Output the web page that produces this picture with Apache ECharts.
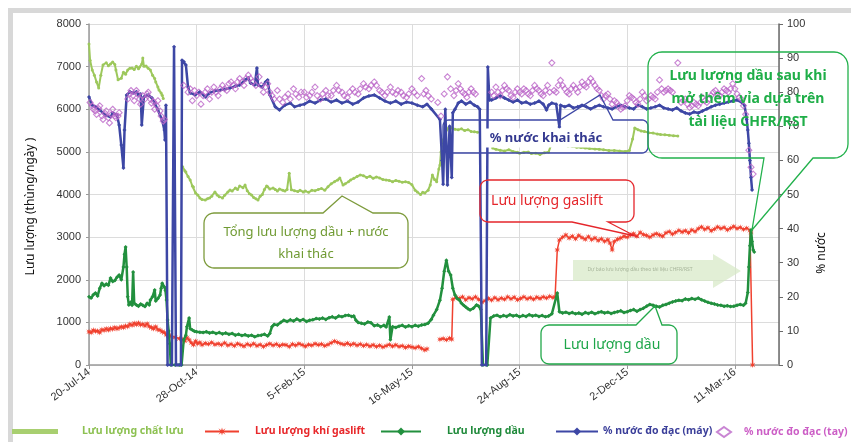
<!DOCTYPE html>
<html>
<head>
<meta charset="utf-8">
<script src="https://cdn.jsdelivr.net/npm/echarts@6/dist/echarts.min.js"></script>
<style>
  html, body { margin: 0; padding: 0; background: #fff; }
  #chart { width: 851px; height: 442px; }
</style>
</head>
<body>
<div id="chart"></div>
<script>
// x values are days counted from the first production day (20-Jul-2014)
const startDate = Date.UTC(2014, 6, 20);
const monthNames = ['Jan','Feb','Mar','Apr','May','Jun','Jul','Aug','Sep','Oct','Nov','Dec'];
const dayTickStep = 100;
const dayAxisEnd = 641;
const rateTicks = [0, 8000, 1000];     // min, max, step (thùng/ngày)
const waterTicks = [0, 100, 10];       // min, max, step (%)

const seriesNames = ['Lưu lượng chất lưu', 'Lưu lượng khí gaslift', 'Lưu lượng dầu', '% nước đo đạc (máy)', '% nước đo đạc (tay)'];

// Total liquid rate
const liquidRate = [
  [0,7530],[1,7150],[3,6920],[5,6800],[7,6640],[9,6500],[11,6800],[13,7040],[16,7090],[18,7020],[20,7060],[22,7110],[24,7050],[25,6920],[27,6690],[30,6730],[32,6870],[34,6820],[36,6920],[38,6960],[40,6970],[42,6930],[44,7010],[46,6950],[47,6990],[49,7060],[50,7200],[51,7010],[53,7015],[55,6960],[57,6920],[59,6800],[61,6720],[62,6640],[64,6520],[65,6450],[67,6380],[68,6330],[69,6250],
  [78,'-'],
  [87,4650],[89,4560],[90,4530],[92,4420],[94,4340],[96,4200],[97,4175],[99,4035],[101,3990],[103,3920],[105,3880],[108,3870],[110,3900],[112,3920],[114,3960],[117,4060],[119,3990],[121,3950],[124,3920],[126,3980],[129,4060],[131,4105],[133,4080],[136,4150],[138,4120],[140,4200],[143,4160],[145,4220],[147,4090],[149,4020],[151,3990],[153,3930],[155,3900],[157,3870],[159,3960],[161,4000],[163,4120],[165,4200],[166,4180],[168,4130],[171,4150],[173,4120],[175,4080],[177,4130],[180,4100],[182,4080],[184,4120],[186,4500],[188,4110],[191,4090],[194,4070],[196,4100],[199,4060],[201,4080],[204,4050],[207,4100],[210,4090],[213,4120],[216,4140],[219,4100],[222,4180],[225,4250],[228,4300],[231,4340],[233,4390],[236,4220],[238,4250],[241,4300],[243,4340],[246,4380],[249,4420],[252,4460],[255,4440],[258,4400],[261,4430],[264,4380],[267,4410],[270,4390],[273,4350],[276,4340],[279,4330],[282,4300],[285,4330],[288,4310],[291,4290],[294,4300],[297,4280],[300,4230],[303,4100],[305,4060],[308,4000],[310,4050],[312,4035],[315,4100],[317,4220],[319,4460],[321,4350],[323,4300],[325,4600],[326,4690],[327,5000],[329,5280],[331,5420],[332,5510],[334,5560],[337,5560],[340,5530],[343,5520],[346,5540],[349,5500],[352,5520],[355,5480],[358,5470],[361,5460],
  [368,'-'],
  [375,5090],[378,5060],[382,5040],[386,5020],[390,5050],[394,5010],[398,4990],[400,4970],[404,4990],[408,5000],[411,4960],[415,4970],[419,4940],[423,4980],[427,5000],[430,5210],[433,5190],[437,5170],[441,5150],[445,5140],[449,5130],[453,5110],[457,5100],[461,5090],[465,5080],[470,5070],[474,5060],[478,5050],[483,5030],[488,5030],[493,5020],[498,5010],[502,5030],[505,5300],[507,5560],[510,5520],[513,5490],[516,5480],[520,5450],[524,5440],[528,5420],[531,5410],[535,5400],[539,5390],[543,5380],[547,5370]
];

// Gas-lift injection rate
const gasliftRate = [
  [0,780],[2,760],[4,820],[6,790],[8,800],[10,760],[12,830],[14,810],[16,850],[18,820],[20,860],[22,840],[24,880],[26,850],[28,870],[30,900],[32,880],[34,920],[36,900],[38,960],[40,930],[42,980],[44,950],[46,990],[48,940],[50,960],[52,920],[54,970],[56,900],[58,880],[60,850],[62,900],[64,830],[66,820],[68,780],[70,760],[72,700],[74,690],[76,680],[80,650],[84,620],[87,600],[89,560],[91,640],[93,590],
  [95,520],[97,470],[99,560],[101,500],[103,530],[105,470],[108,510],[111,490],[114,530],[117,480],[120,500],[123,470],[126,520],[129,460],[132,490],[135,450],[138,500],[141,470],[144,440],[147,490],[150,460],[153,500],[156,450],[159,480],[162,430],[165,470],[168,500],[171,460],[174,490],[177,450],[180,480],[183,470],[186,430],[189,490],[192,460],[195,500],[198,470],[201,440],[204,480],[207,460],[210,500],[213,470],[216,490],[219,450],[222,480],[225,520],[228,560],[231,530],[234,500],[237,480],[240,510],[243,470],[246,500],[249,460],[252,490],[255,450],[258,480],[261,440],[264,470],[267,430],[270,460],[273,420],[276,450],[279,480],[282,440],[285,470],[288,430],[291,450],[294,410],[297,440],[300,420],[303,400],[306,430],[309,390],[312,350],[314,380],
  [320,'-'],
  [326,600],[329,620],[332,590],[335,630],[337,600],[338,1540],[341,1590],[344,1560],[347,1600],[350,1530],[353,1580],[356,1550],[359,1600],[362,1540],[365,1470],[368,1510],[371,1560],[374,1520],[377,1580],[380,1530],[383,1570],[386,1540],[389,1600],[392,1550],[395,1590],[398,1530],[401,1560],[404,1600],[407,1550],[410,1580],[413,1540],[416,1590],[419,1560],[422,1600],[425,1570],[428,1610],[431,1580],[433,1600],
  [435,2700],[437,2930],[440,3000],[443,3050],[446,2980],[449,3020],[452,2960],[455,3040],[458,2990],[461,2950],[464,3010],[467,2940],[470,2980],[473,2920],[476,2960],[479,2900],[482,2940],[484,2860],[486,2700],[488,2900],[491,2950],[494,2980],[497,3020],[500,3000],[503,3050],[506,3080],[509,3020],[512,3110],[515,3060],[518,3040],[521,3000],[524,3050],[527,3080],[530,3050],[533,3020],[536,3100],[539,3130],[542,3070],[545,3110],[548,3160],[551,3120],[554,3150],[557,3100],[560,3170],[563,3130],[566,3200],[569,3240],[572,3180],[575,3220],[578,3150],[581,3190],[584,3240],[587,3200],[590,3230],[593,3170],[596,3210],[599,3250],[602,3200],[605,3230],[608,3180],[611,3210],[614,3160],[615,3120],[616.5,0]
];

// Oil rate
const oilRate = [
  [0,1600],[2,1570],[4,1650],[6,1690],[8,1620],[10,1800],[12,1920],[14,1860],[16,1900],[18,1870],[20,2040],[22,1960],[24,1980],[26,2060],[28,2110],[30,2000],[32,2300],[33,2600],[34,2770],[35,2300],[36,1600],[37,1410],[38,1450],[39,1480],[40,1400],[41,2180],[42,1450],[44,1410],[46,1380],[48,1430],[50,1400],[52,1370],[54,1450],[56,1410],[57,1525],[59,1600],[61,1760],[62,1500],[64,1560],[66,1640],[67,1800],[68,1920],[70,1830],[71,1750],[72,1525],[73,1055],[74,800],[75,500],[76,0],[80,0],[84,0],[86,0],
  [88,590],[90,700],[91,900],[93,1100],[94,850],[96,820],[98,790],[100,780],[103,770],[106,760],[109,780],[112,750],[115,770],[118,740],[121,760],[124,730],[127,750],[130,720],[133,740],[136,700],[139,720],[142,690],[145,710],[148,680],[151,700],[154,660],[157,690],[160,700],[163,720],[166,680],[168,740],[170,900],[172,950],[175,940],[178,1000],[181,1050],[184,1020],[187,1060],[190,1030],[193,1080],[196,1040],[199,1070],[202,1020],[205,1050],[208,1060],[211,1090],[214,1080],[217,1100],[220,1070],[223,1110],[226,1130],[229,1100],[232,1150],[235,1130],[238,1160],[241,1170],[244,1140],[246,1150],[248,1050],[250,1000],[253,980],[256,960],[259,1010],[262,990],[265,920],[268,940],[271,900],[274,930],[276,890],[279,1125],[280,590],[282,900],[285,880],[288,910],[291,930],[294,890],[297,920],[300,900],[303,930],[306,910],[309,940],[312,950],[315,980],[318,1070],[320,1170],[323,1300],[326,1520],[328,1800],[330,2200],[332,2460],[334,2200],[336,2110],[338,1800],[340,1640],[342,1560],[344,1525],[346,1450],[348,1400],[350,1360],[352,1320],[354,1290],[357,1330],[360,1410],[362,1380],[364,1300],[366,0],[370,0],
  [373,1100],[376,1150],[379,1170],[382,1130],[385,1160],[388,1140],[391,1180],[394,1150],[397,1170],[400,1130],[403,1160],[406,1140],[409,1180],[412,1150],[415,1170],[418,1140],[421,1160],[424,1130],[427,1150],[430,1200],[435,1690],[437,1250],[440,1220],[443,1240],[446,1210],[449,1230],[452,1200],[455,1220],[458,1190],[461,1230],[464,1210],[467,1240],[470,1200],[473,1230],[476,1250],[479,1220],[482,1240],[485,1210],[488,1230],[491,1250],[494,1270],[497,1230],[500,1250],[503,1280],[506,1300],[509,1260],[512,1300],[515,1330],[518,1380],[521,1420],[524,1400],[527,1380],[530,1360],[533,1400],[536,1420],[539,1450],[542,1480],[545,1500],[548,1520],[551,1510],[554,1550],[557,1530],[560,1560],[563,1540],[566,1570],[569,1530],[572,1500],[575,1470],[578,1450],[581,1430],[584,1410],[587,1400],[590,1380],[593,1390],[596,1370],[599,1380],[602,1400],[605,1420],[608,1400],[610,1450],[612,1700],[613,2300],[614,2800],[615,3170],[616,2900],[617,2700],[618,2650]
];

// Water cut from the flow meter (%)
const waterCutMeter = [
  [0,78.6],[3,76.2],[6,75.7],[10,74.8],[15,73.3],[20,72.7],[22,73.9],[26,73.3],[28,70.4],[30,64.5],[32,57.8],[33,68.9],[35,79.2],[38,80.1],[41,79.8],[44,80.1],[46,79.2],[48,79.5],[49,70.4],[51,78.6],[55,79.2],[58.5,78.3],[61,76.8],[64,74.8],[68,71.8],[70,68.9],[70.6,66],[71.5,76.2],[73,0],[77,0],[79,93.3],[80.8,0],[82.7,0],[85.4,0],[86.4,89.4],[88.2,88.9],[90,88],[92,81.5],[94,79.8],[98.5,79.2],[103,80.1],[108,78.6],[112,79.8],[117,80.4],[122,80.6],[126,80.9],[131,81.2],[136,81.8],[140,82.1],[145,83.6],[148,84.2],[150,82.7],[154,82.1],[156,87.1],[157,82.1],[161,81.5],[164,83],[166,83.6],[168,79.2],[173,75.7],[177,74.8],[182,76.2],[187,76.8],[191,75.7],[196,76.2],
  [200,76.5],[205,77.4],[210,76.8],[215,77.7],[220,78.0],[225,77.1],[230,77.7],[235,76.8],[240,77.4],[245,76.5],[250,77.1],[255,78.3],[260,78.9],[265,79.2],[270,78.3],[275,77.4],[280,76.8],[285,77.4],[290,76.5],[295,77.1],[300,76.8],[305,76.2],[310,75.7],[314,76.5],[318,75.1],[326,72],[328,60],[329,53],[330,65],[331,75],[333,52.8],[334,62],[335,70],[337,55],[338,74],[340,75],[343,76.8],[346,77.4],[350,76.5],[354,77.1],[358,76.2],[361,75.7],[363,75],[365,0],[369,0],[370.5,87.4],[372,77.7],
  [374,77.7],[378,78.3],[382,78.9],[386,78.3],[390,77.7],[394,77.1],[398,77.7],[402,76.8],[406,77.1],[410,76.5],[414,76.8],[418,77.4],[422,76.5],[425,74.8],[427,76.2],[430,76.8],[434,76.5],[437,69.8],[438,76.2],[442,75.7],[446,76.2],[450,75.4],[454,75.7],[458,76.2],[462,75.7],[466,75.1],[470,75.7],[474,76.2],[478,75.7],[482,75.4],[486,75.1],[490,75.7],[494,76.2],[498,75.7],[502,75.4],[506,75.1],[510,76.2],[514,75.7],[518,75.1],[522,75.4],[526,75.7],[530,76.2],[534,75.4],[538,75.1],[542,74.8],[546,75.4],[550,74.5],[554,73.9],[558,73.6],[562,74.2],[566,73.9],[570,74.5],[574,75.1],[578,75.7],[582,76.2],[586,76.5],[590,76.8],[594,77.1],[598,77.4],[602,77.7],[606,77.1],[609,76.2],[611,72],[612,68.9],[613,65],[614,60],[615,55],[616,51.3]
];

// Water cut from manual samples (%)
const waterCutManual = [
  [1,77],[3,76],[4,75],[6,74.5],[7,73.5],[9,75.2],[10,76],[12,73],[13,72],[15,73.8],[16,74.5],[18,72.5],[19,71],[21,73.5],[22,75],[24,73],[25,72.5],[27,73],[28,74],[36,78],[38,79.5],[39,80.5],[41,79],[42,77.5],[44,80.5],[45,79.5],[47,78],[48,76.5],[50,79],[52,78],[54,79.5],[55,80],[57,78],[58,76.8],[60,77.2],[61,75],[63,76],[64,77.5],[66,74.5],[67,73],[69,71.5],[70,72],
  [88,82],[92,80],[94,81],[96,77.5],[98,80.5],[100,79],[102,80],[104,76.5],[106,79],[108,80],[110,81],[112,78],[114,80],[116,81.5],[118,80],[120,79],[122,81],[124,82],[126,81],[128,80.5],[130,82.5],[132,83],[134,82],[136,81],[138,83],[140,84],[142,83],[144,82],[146,84],[148,85],[150,84],[152,83],[155,82],[158,84.5],[160,82],[162,80],[164,81.5],[166,82.5],[168,80],[170,79],[172,78],[175,80.5],[177,78],[180,77],[182,78.5],[185,79.5],[187,78],[190,81],[192,79.5],[195,78.5],[197,80],[200,80],[202,78.5],[205,79],[207,80],[210,81.5],[212,79],[215,78],[217,79.5],[220,80.5],[222,79],[225,79],[227,80.5],[230,82],[232,80.5],[235,80],[237,79],[240,78.5],[242,80],[245,81],[247,80],[250,79.5],[252,81],[255,82.5],[257,81.5],[260,81],[262,82],[265,83],[267,82],[270,80.5],[272,80],[275,79],[277,80],[280,81.5],[282,80],[285,79.5],[287,80.5],[290,80],[292,79],[295,78.5],[297,79.5],[300,81],[302,80],[305,79],[309,84],[311,79.5],[313,80.5],[315,79],[318,78],[324,77],[327,73],[330,79.5],[333,84.5],[336,81],[339,79],[341,80.5],[343,82.5],[345,81],[347,80],[349,79.5],[351,78.5],[353,80],[355,81],[357,80],[359,79.5],
  [374,80],[376,79],[378,81.5],[380,80],[382,79],[384,80.5],[386,82],[388,81],[390,80.5],[392,79],[394,78.5],[396,80],[398,81],[400,80],[402,79.5],[404,81],[406,80.5],[408,79.5],[410,79],[412,80.5],[414,82],[416,81],[418,80.5],[420,79.5],[422,79],[424,80.5],[426,82],[428,80],[430,88.6],[432,80.5],[434,80],[436,82],[438,83.5],[440,82],[442,81],[444,80],[446,79.5],[448,81],[450,82],[452,81],[454,80],[456,81.5],[458,83],[460,82],[462,81.5],[464,83],[466,84],[468,83],[470,82],[472,81],[474,80.5],[476,79],[478,78],[480,79],[482,79.5],[484,78],[486,76.5],[488,77.5],[490,77],[492,76],[494,75],[496,75.5],[498,76],[500,77.5],[502,79],[504,78.5],[506,78],[508,77],[510,76.5],[512,78],[514,80],[516,79],[518,77.5],[520,78],[522,79],[524,78.5],[526,78],[528,80],[530,83.6],[532,81],[534,80],[536,80.5],[538,81],[540,80.5],[542,80],[547,88.6],[550,77],[552,77.5],[554,78],[556,76.5],[558,75.5],[560,76],[562,77],[564,76.5],[566,76],[568,77],[570,78.5],[572,77.5],[574,77],[576,78],[578,79],[580,80],[582,80.5],[584,79.5],[586,79],[588,80],[590,81],[592,80.5],[594,80],[596,81],[598,82.5],[600,81],[602,79.5],[604,78.5],[606,78],[608,76],[610,73.5],[613,63],[615,58],[617,56]
];

function formatDay(d) {
  const t = new Date(startDate + d * 86400000);
  return t.getUTCDate() + '-' + monthNames[t.getUTCMonth()] + '-' + String(t.getUTCFullYear()).slice(2);
}

// Rounded speech-bubble outline as a point list; the pointer leaves the top or bottom edge
function bubblePoints(x, y, w, h, r, p) {
  const pts = [];
  function corner(cx, cy, a0) {
    for (let i = 0; i <= 6; i++) {
      const a = a0 + (Math.PI / 2) * (i / 6);
      pts.push([cx + r * Math.cos(a), cy + r * Math.sin(a)]);
    }
  }
  corner(x + r, y + r, Math.PI);
  if (p && p.edge === 'top') { pts.push([p.a, y], p.tip, [p.b, y]); }
  corner(x + w - r, y + r, -Math.PI / 2);
  corner(x + w - r, y + h - r, 0);
  if (p && p.edge === 'bottom') { pts.push([p.b, y + h], p.tip, [p.a, y + h]); }
  corner(x + r, y + h - r, Math.PI / 2);
  return pts;
}

const starSymbol = 'path://M5,0 L6,3.5 L9.5,1 L7,4.5 L10,5 L7,5.5 L9.5,9 L6,6.5 L5,10 L4,6.5 L0.5,9 L3,5.5 L0,5 L3,4.5 L0.5,1 L4,3.5 Z';
const uiFont = '"Noto Sans", "DejaVu Sans", sans-serif';
const axisFont = '"Liberation Sans", Arial, sans-serif';

const colors = {
  liquid: '#9dc85c', gas: '#f0412f', oil: '#22903e', meter: '#3d47a5', manual: '#bb66c8'
};

function legendItem(name, left, itemWidth, color, gap) {
  return {
    data: [name], left: left, top: 426, padding: 0, itemWidth: itemWidth, itemHeight: 10, itemGap: 0,
    selectedMode: false,
    textStyle: { color: color, fontFamily: uiFont, fontWeight: 'bold', fontSize: 10.5, padding: [0, 0, 0, gap] }
  };
}

function bubble(pts, stroke, fill) {
  return { type: 'polygon', shape: { points: pts }, style: { fill: fill, stroke: stroke, lineWidth: 1.3 }, z: 20, silent: true };
}
function label(x, y, text, color, font, extra) {
  return { type: 'text', x: x, y: y, style: Object.assign({ text: text, fill: color, font: font, align: 'center', verticalAlign: 'middle' }, extra || {}), z: 21, silent: true };
}

const chart = echarts.init(document.getElementById('chart'), null, { renderer: 'canvas' });

chart.setOption({
  animation: false,
  backgroundColor: '#fff',
  grid: { left: 89, right: 72, top: 24, bottom: 77, containLabel: false },
  legend: [
    { data: [{ name: seriesNames[0], icon: 'rect', itemStyle: { color: '#a8cf70' } }], left: 12, top: 426, padding: 0, itemWidth: 46, itemHeight: 5, selectedMode: false,
      textStyle: { color: '#8dc152', fontFamily: uiFont, fontWeight: 'bold', fontSize: 10.5, padding: [0, 0, 0, 19] } },
    legendItem(seriesNames[1], 204, 34, '#e8282b', 11),
    legendItem(seriesNames[2], 380, 40, '#1f8a3a', 21),
    legendItem(seriesNames[3], 555, 42, '#3b3f9a', 0),
    legendItem(seriesNames[4], 716, 14, '#cc5fc6', 8)
  ],
  xAxis: {
    type: 'value', min: 0, max: dayAxisEnd, interval: dayTickStep,
    axisLine: { show: true, lineStyle: { color: '#9a9a9a', width: 1.5 } },
    axisTick: { show: true, length: 4, lineStyle: { color: '#9a9a9a' } },
    splitLine: { show: true, lineStyle: { color: '#dcdcdc', width: 1 } },
    axisLabel: { rotate: 37, margin: 6, color: '#333', fontFamily: axisFont, fontSize: 11, formatter: formatDay, showMaxLabel: false }
  },
  yAxis: [
    {
      type: 'value', min: rateTicks[0], max: rateTicks[1], interval: rateTicks[2], position: 'left',
      name: 'Lưu lượng (thùng/ngày )', nameLocation: 'middle', nameGap: 52, nameRotate: 90,
      nameTextStyle: { color: '#111', fontFamily: uiFont, fontSize: 12, padding: [0, 24, 0, 0] },
      axisLine: { show: true, lineStyle: { color: '#9a9a9a', width: 1.5 } },
      axisTick: { show: true, length: 3, lineStyle: { color: '#9a9a9a' } },
      splitLine: { show: true, lineStyle: { color: '#dcdcdc', width: 1 } },
      axisLabel: { margin: 8, color: '#333', fontFamily: axisFont, fontSize: 11, formatter: v => String(v) }
    },
    {
      type: 'value', min: waterTicks[0], max: waterTicks[1], interval: waterTicks[2], position: 'right',
      axisLine: { show: true, lineStyle: { color: '#6a6a6a', width: 1.5 } },
      axisTick: { show: true, length: 4, inside: false, lineStyle: { color: '#6a6a6a' } },
      splitLine: { show: false },
      axisLabel: { margin: 8, color: '#333', fontFamily: axisFont, fontSize: 11, formatter: v => String(v) }
    }
  ],
  series: [
    {
      name: seriesNames[0], type: 'line', yAxisIndex: 0, data: liquidRate, connectNulls: false,
      symbol: 'circle', symbolSize: 3, showSymbol: true,
      lineStyle: { color: colors.liquid, width: 2 }, itemStyle: { color: colors.liquid }, z: 2
    },
    {
      name: seriesNames[1], type: 'line', yAxisIndex: 0, data: gasliftRate, connectNulls: false,
      symbol: starSymbol, symbolSize: 6, showSymbol: true,
      lineStyle: { color: colors.gas, width: 1.5 }, itemStyle: { color: colors.gas }, z: 3
    },
    {
      name: seriesNames[2], type: 'line', yAxisIndex: 0, data: oilRate,
      symbol: 'diamond', symbolSize: 4, showSymbol: true,
      lineStyle: { color: colors.oil, width: 2.5 }, itemStyle: { color: colors.oil }, z: 4
    },
    {
      name: seriesNames[3], type: 'line', yAxisIndex: 1, data: waterCutMeter,
      symbol: 'diamond', symbolSize: 4, showSymbol: true,
      lineStyle: { color: colors.meter, width: 2.5 }, itemStyle: { color: colors.meter }, z: 5
    },
    {
      name: seriesNames[4], type: 'scatter', yAxisIndex: 1, data: waterCutManual,
      symbol: 'diamond', symbolSize: 6,
      itemStyle: { color: 'rgba(255,255,255,0)', borderColor: colors.manual, borderWidth: 1.1 }, z: 6
    }
  ],
  graphic: [
    // outer frame
    { type: 'rect', shape: { x: 10.5, y: 10.5, width: 900, height: 500 }, style: { fill: 'none', stroke: '#d8d8d8', lineWidth: 5 }, z: 0, silent: true },
    // right axis title
    { type: 'text', x: 822, y: 253, rotation: Math.PI / 2, style: { text: '% nước', fill: '#111', font: '12px ' + uiFont, align: 'center', verticalAlign: 'middle' }, z: 10, silent: true },
    // forecast arrow
    { type: 'polygon', shape: { points: [[573, 260], [713, 260], [713, 254], [741, 271], [713, 288], [713, 281], [573, 281]] }, style: { fill: 'rgba(214,232,196,0.7)' }, z: 7, silent: true },
    { type: 'text', x: 640, y: 270, style: { text: 'Dự báo lưu lượng dầu theo tài liệu CHFR/RST', fill: '#a7b59a', font: '5px ' + uiFont, align: 'center', verticalAlign: 'middle' }, z: 8, silent: true },
    // liquid callout
    bubble(bubblePoints(204, 213, 204, 55, 10, { edge: 'top', a: 323, b: 373, tip: [342, 196] }), '#7d9b3c', '#fff'),
    label(306, 232, 'Tổng lưu lượng dầu + nước', '#6f9a32', '13px ' + uiFont),
    label(306, 254, 'khai thác', '#6f9a32', '13px ' + uiFont),
    // gas-lift callout
    bubble(bubblePoints(480, 180, 154, 42, 8, { edge: 'bottom', a: 572, b: 608, tip: [635, 236] }), '#e5262b', 'none'),
    label(547, 201, 'Lưu lượng gaslift', '#e5262b', '14px ' + uiFont),
    // oil callout
    bubble(bubblePoints(541, 325, 136, 39, 8, { edge: 'top', a: 636, b: 662, tip: [655, 306] }), '#22a84a', '#fff'),
    label(612, 345, 'Lưu lượng dầu', '#1ea64a', '14px ' + uiFont),
    // water cut callout
    bubble(bubblePoints(443, 120, 205, 33, 6, { edge: 'top', a: 560, b: 613, tip: [600, 95] }), '#3d47a5', 'none'),
    label(546, 138, '% nước khai thác', '#33388f', 'bold 13px ' + uiFont, { backgroundColor: '#fff', padding: [3, 6] }),
    // CHFR/RST callout
    bubble(bubblePoints(648, 52, 200, 106, 14, { edge: 'bottom', a: 764, b: 813, tip: [752, 230] }), '#22b14c', 'none'),
    label(748, 76, 'Lưu lượng dầu sau khi', '#1fae48', 'bold 14px ' + uiFont),
    label(748, 99, 'mở thêm vỉa dựa trên', '#1fae48', 'bold 14px ' + uiFont),
    label(748, 122, 'tài liệu CHFR/RST', '#1fae48', 'bold 14px ' + uiFont)
  ]
});
</script>
</body>
</html>
